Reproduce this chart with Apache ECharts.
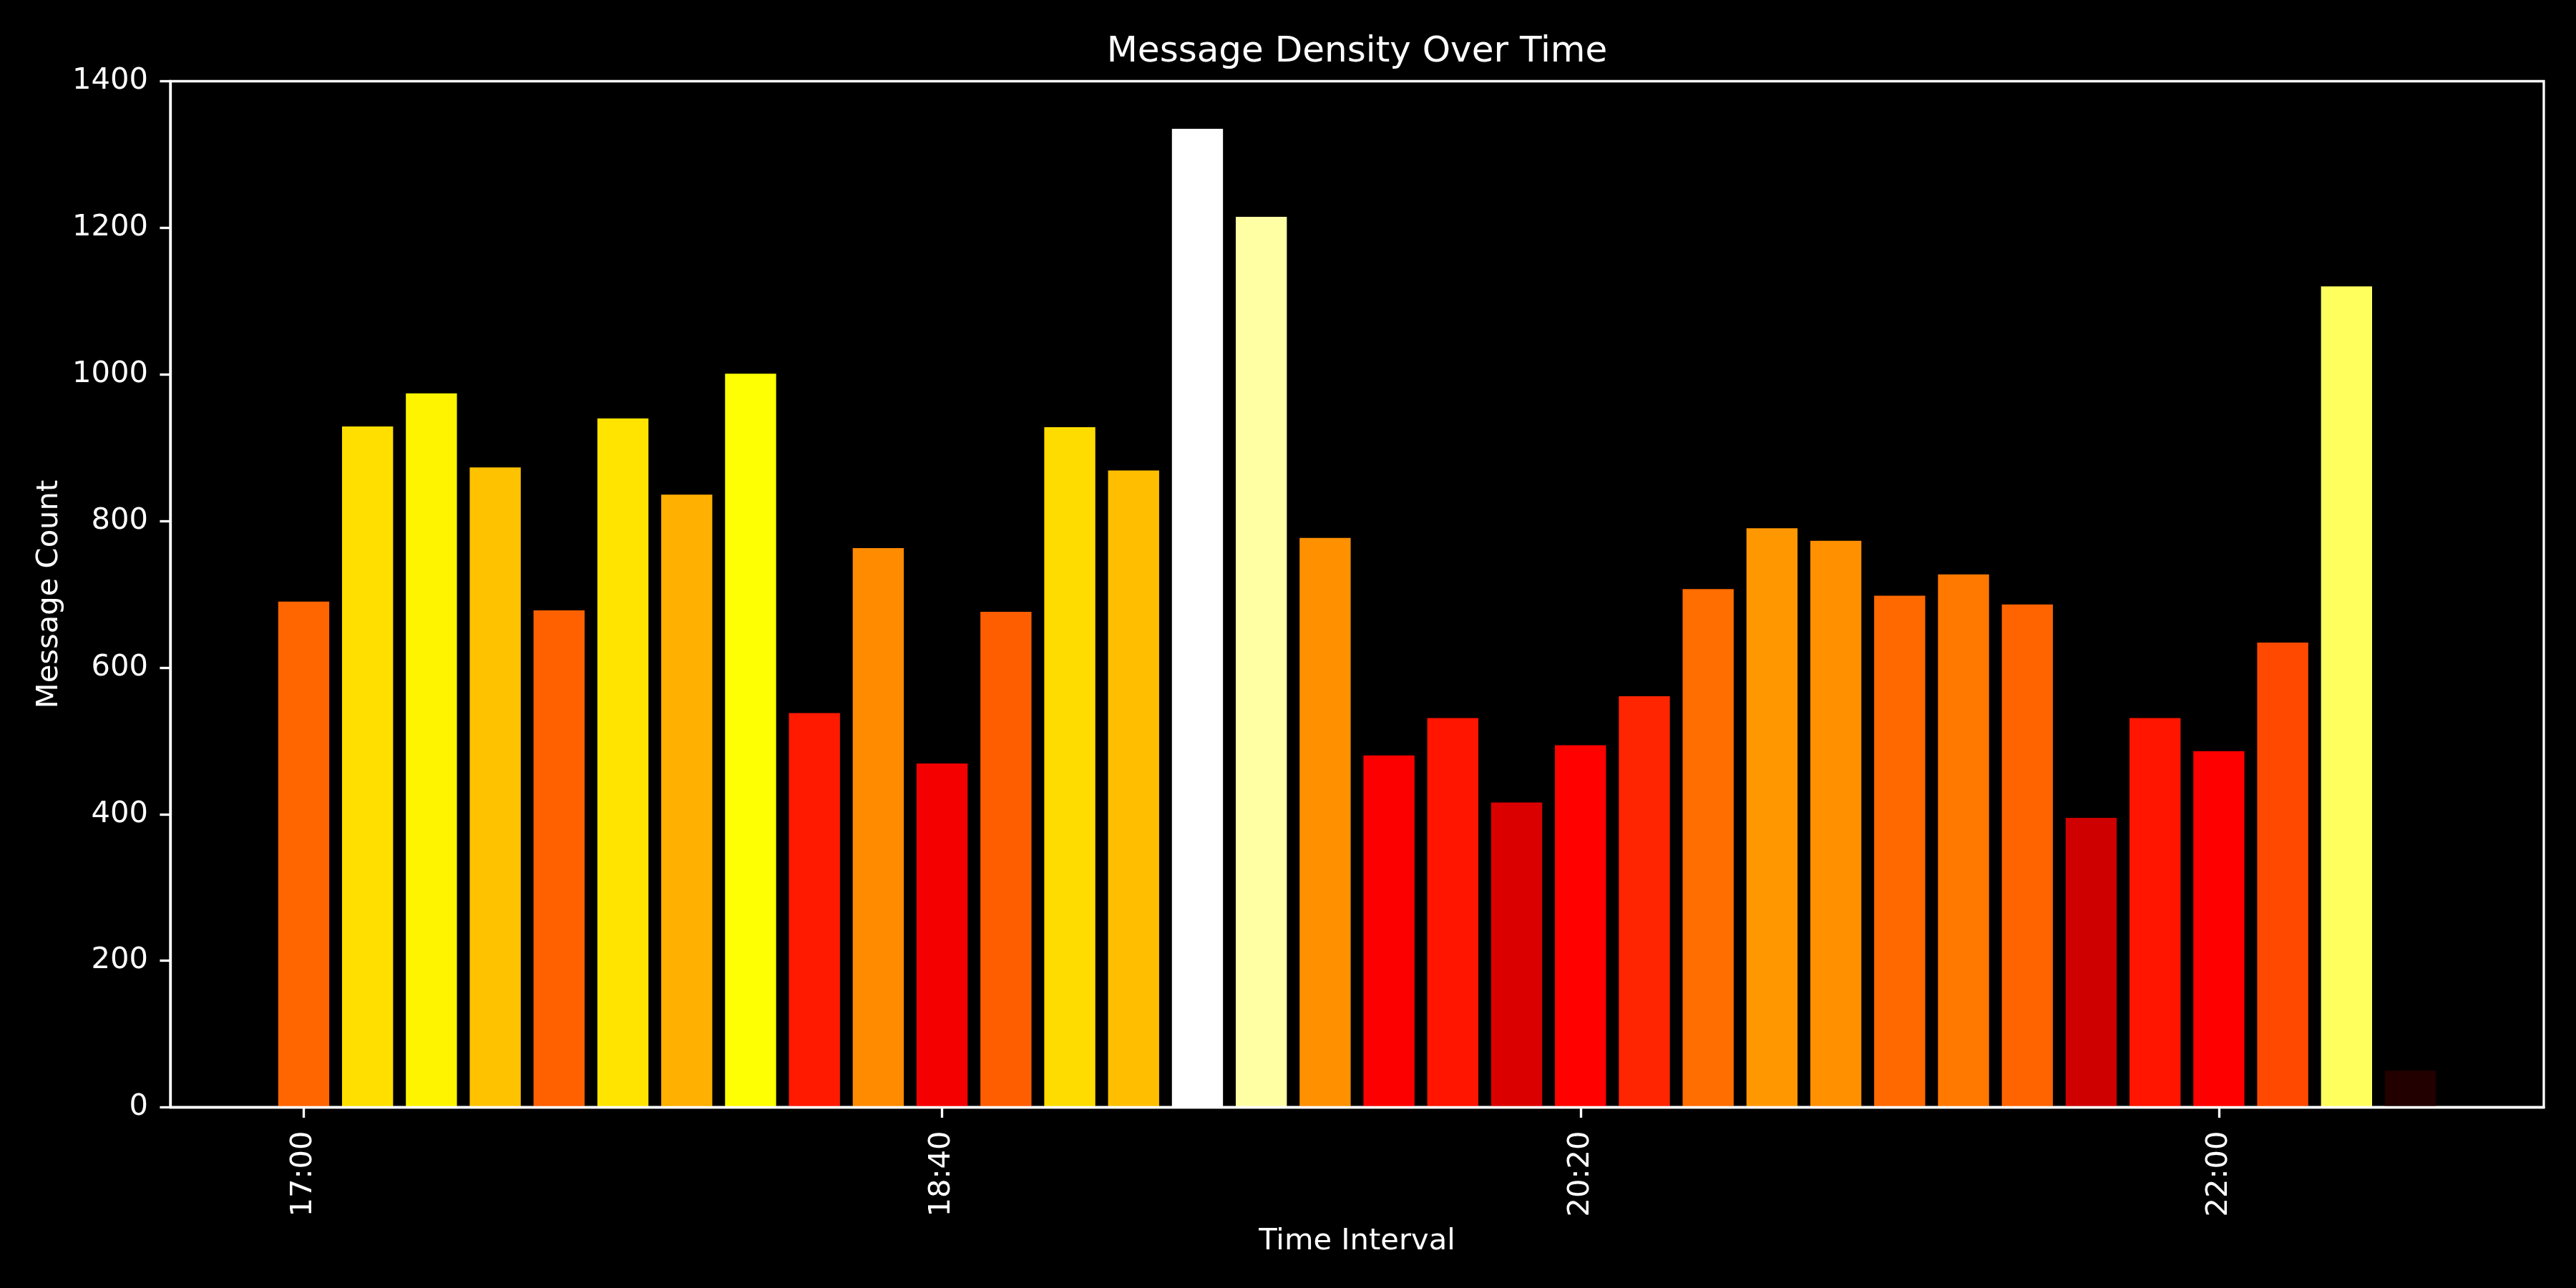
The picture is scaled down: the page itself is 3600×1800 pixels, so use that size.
<!DOCTYPE html>
<html>
<head>
<meta charset="utf-8">
<script src="https://cdn.jsdelivr.net/npm/echarts@6/dist/echarts.min.js"></script>
<style>
html,body{margin:0;padding:0;background:#000;}
#chart{width:3600px;height:1800px;}
</style>
</head>
<body>
<div id="chart"></div>
<script>
// ---- data ----
const times = ['17:00','17:10','17:20','17:30','17:40','17:50','18:00','18:10','18:20','18:30',
               '18:40','18:50','19:00','19:10','19:20','19:30','19:40','19:50','20:00','20:10',
               '20:20','20:30','20:40','20:50','21:00','21:10','21:20','21:30','21:40','21:50',
               '22:00','22:10','22:20','22:30'];
const counts = [690, 929, 974, 873, 678, 940, 836, 1001, 538, 763,
                469, 676, 928, 869, 1335, 1215, 777, 480, 531, 416,
                494, 561, 707, 790, 773, 698, 727, 686, 395, 531,
                486, 634, 1120, 50];
const xTickLabels = ['17:00','18:40','20:20','22:00'];
const yTicks = [0, 200, 400, 600, 800, 1000, 1200, 1400];
const chartTitle = 'Message Density Over Time';
const xAxisName = 'Time Interval';
const yAxisName = 'Message Count';

// ---- helpers ----
const toMin = s => { const p = s.split(':').map(Number); return p[0] * 60 + p[1]; };
const fmt = m => { const h = Math.floor(m / 60), mm = Math.round(m % 60); return h + ':' + String(mm).padStart(2, '0'); };

// matplotlib 'hot' colormap (256-level LUT)
function hot(x) {
  let idx = Math.floor(x * 256); if (idx > 255) idx = 255; if (idx < 0) idx = 0;
  const t = idx / 255;
  const k1 = 0.365079, k2 = 0.746032;
  let r = t < k1 ? 0.0416 + (1 - 0.0416) * t / k1 : 1;
  let g = t < k1 ? 0 : (t < k2 ? (t - k1) / (k2 - k1) : 1);
  let b = t < k2 ? 0 : (t - k2) / (1 - k2);
  const c = v => Math.round(Math.min(1, Math.max(0, v)) * 255);
  return 'rgb(' + c(r) + ',' + c(g) + ',' + c(b) + ')';
}

const maxCount = Math.max(...counts);
const xs = times.map(toMin);
const barMinutes = 8;                 // bar width in minutes (0.8 of the 10-min step)
const lo = Math.min(...xs) - barMinutes / 2, hi = Math.max(...xs) + barMinutes / 2;
const pad = (hi - lo) * 0.05;
const xMin = lo - pad, xMax = hi + pad;

const gridL = 238, gridR = 45, gridT = 113.5, gridB = 252.5;
const plotW = 3600 - gridL - gridR;
const barPx = barMinutes * plotW / (xMax - xMin);

const FONT = 'DejaVu Sans';
const FS = 41.67;
const LW = 3.33;

const chart = echarts.init(document.getElementById('chart'), null, {renderer: 'canvas'});
const option = {
  backgroundColor: '#000',
  animation: false,
  title: {
    text: chartTitle,
    left: gridL + plotW / 2,
    textAlign: 'center',
    top: 48,
    padding: 0,
    textStyle: {color: '#fff', fontFamily: FONT, fontSize: 50, fontWeight: 'normal'}
  },
  grid: {
    left: gridL, right: gridR, top: gridT, bottom: gridB,
    show: true, borderColor: '#fff', borderWidth: LW, backgroundColor: '#000'
  },
  xAxis: {
    type: 'value',
    min: xMin, max: xMax,
    z: 5,
    name: xAxisName,
    nameLocation: 'middle',
    nameGap: 167,
    nameTextStyle: {color: '#fff', fontFamily: FONT, fontSize: FS},
    axisLine: {show: true, lineStyle: {color: '#fff', width: LW}},
    axisTick: {show: true, length: 14.6, lineStyle: {color: '#fff', width: LW},
               customValues: xTickLabels.map(toMin)},
    axisLabel: {show: true, rotate: 90, margin: 33, color: '#fff', fontFamily: FONT, fontSize: FS,
                customValues: xTickLabels.map(toMin), formatter: v => fmt(v)},
    splitLine: {show: false}
  },
  yAxis: {
    type: 'value',
    min: yTicks[0], max: yTicks[yTicks.length - 1], interval: yTicks[1] - yTicks[0],
    z: 5,
    name: yAxisName,
    nameLocation: 'middle',
    nameRotate: 90,
    nameGap: 145,
    nameTextStyle: {color: '#fff', fontFamily: FONT, fontSize: FS},
    axisLine: {show: true, lineStyle: {color: '#fff', width: LW}},
    axisTick: {show: true, length: 14.6, lineStyle: {color: '#fff', width: LW}},
    axisLabel: {show: true, margin: 31, color: '#fff', fontFamily: FONT, fontSize: FS,
                formatter: v => String(v)},
    splitLine: {show: false}
  },
  series: [{
    type: 'bar',
    barWidth: barPx,
    data: xs.map((x, i) => [x, counts[i]]),
    itemStyle: {color: p => hot(p.value[1] / maxCount)}
  }]
};
chart.setOption(option);
</script>
</body>
</html>
